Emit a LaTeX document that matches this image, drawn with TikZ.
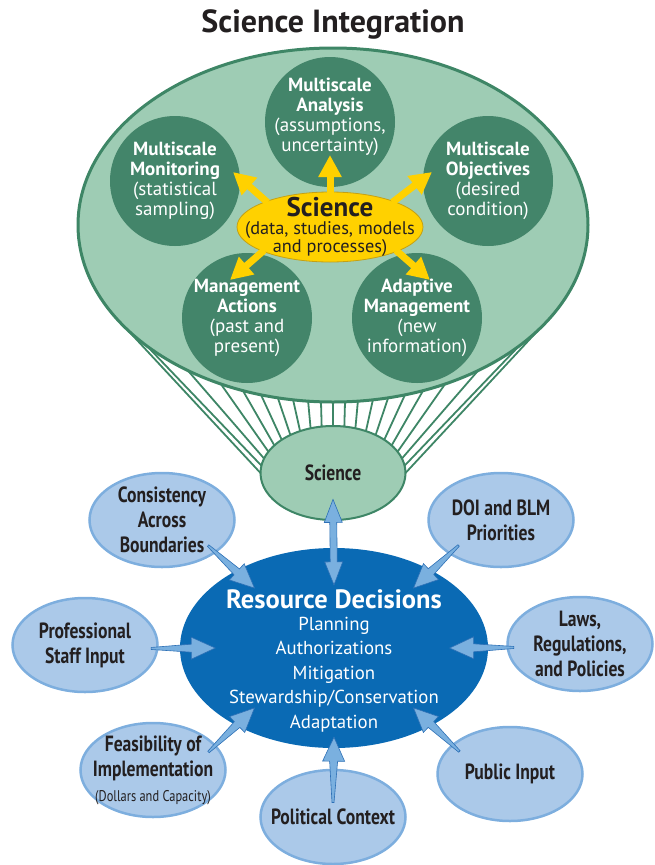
\documentclass[tikz,border=0pt]{standalone}
\usepackage{fontspec}
\setmainfont{PT Sans}
\newfontfamily\narrowsans[FakeStretch=0.8]{PT Sans}
\usetikzlibrary{calc,arrows.meta,shapes.geometric}

\definecolor{ink}{RGB}{35,31,32}
\definecolor{leaf}{RGB}{158,204,180}
\definecolor{leafedge}{RGB}{62,134,102}
\definecolor{pine}{RGB}{67,133,106}
\definecolor{sun}{RGB}{255,209,0}
\definecolor{sunedge}{RGB}{196,160,20}
\definecolor{ocean}{RGB}{10,106,180}
\definecolor{sky}{RGB}{171,201,233}
\definecolor{skyedge}{RGB}{125,174,222}
\definecolor{flow}{RGB}{122,176,223}
\definecolor{flowedge}{RGB}{45,112,182}

\tikzset{
  hub/.style={circle, fill=pine, minimum size=130pt, inner sep=-10pt,
    text=white, align=center, font=\fontsize{19}{20}\selectfont},
  topic/.style={ellipse, fill=sky, draw=skyedge, line width=2.5pt,
    minimum width=145pt, minimum height=94pt, inner xsep=-15pt, inner ysep=-10pt,
    align=center, text=ink, font=\narrowsans\bfseries\fontsize{22}{25}\selectfont},
  fanline/.style={leafedge, line width=1.8pt},
  sunarrow/.style={sun, line width=7pt, shorten <=-2pt,
    -{Triangle[width=22pt,length=22pt]}},
  flowarrow/.style={fill=flow, draw=flowedge, line width=0.6pt, line join=miter},
}

% tapered one-way arrow: #1 tail, #2 tip
\newcommand\taperarrow[2]{%
  \coordinate (ta-s) at (#1);
  \coordinate (ta-t) at (#2);
  \coordinate (ta-b) at ($(ta-t)!24pt!(ta-s)$);
  \filldraw[flowarrow] ($(ta-s)!1pt!90:(ta-t)$) -- ($(ta-b)!4pt!90:(ta-t)$)
    -- ($(ta-b)!11pt!90:(ta-t)$) -- (ta-t) -- ($(ta-b)!11pt!-90:(ta-t)$)
    -- ($(ta-b)!4pt!-90:(ta-t)$) -- ($(ta-s)!1pt!-90:(ta-t)$) -- cycle;
}
% two-headed arrow between two tips
\newcommand\twowayarrow[2]{%
  \coordinate (tw-a) at (#1);
  \coordinate (tw-b) at (#2);
  \coordinate (tw-ha) at ($(tw-a)!23pt!(tw-b)$);
  \coordinate (tw-hb) at ($(tw-b)!23pt!(tw-a)$);
  \filldraw[flowarrow] (tw-a) -- ($(tw-ha)!9pt!90:(tw-b)$) -- ($(tw-ha)!3.5pt!90:(tw-b)$)
    -- ($(tw-hb)!3.5pt!90:(tw-b)$) -- ($(tw-hb)!9pt!90:(tw-b)$) -- (tw-b)
    -- ($(tw-hb)!9pt!-90:(tw-b)$) -- ($(tw-hb)!3.5pt!-90:(tw-b)$)
    -- ($(tw-ha)!3.5pt!-90:(tw-b)$) -- ($(tw-ha)!9pt!-90:(tw-b)$) -- cycle;
}

\begin{document}
\begin{tikzpicture}[x=1pt,y=-1pt]
  \useasboundingbox (0,0) rectangle (654,865);

  % title
  \node[anchor=base, text=ink, font=\bfseries\fontsize{32}{34}\selectfont] (title) at (333,32) {Science Integration};

  % big oval and the small science oval below it
  \node[ellipse, fill=leaf, draw=leafedge, line width=3pt, minimum width=510pt,
    minimum height=354pt, inner sep=0pt] (integ) at (333,225) {};
  \node[topic, fill=leaf, draw=leafedge, line width=2pt,
    font=\narrowsans\bfseries\fontsize{22}{22}\selectfont] (sci) at (333,473) {Science};

  % funnel lines, mirrored left/right
  \foreach \s/\t in {0/0, 2.7/9, 5.6/18, 9/27, 12.5/36, 16.4/45, 20.7/54, 26.1/63, 34.7/72, 46.8/81, 53.9/90} {
    \draw[fanline] ($(integ)+(90+\s:255 and 177)$) -- ($(sci)+(-90-\t:72.5 and 47)$);
    \draw[fanline] ($(integ)+(90-\s:255 and 177)$) -- ($(sci)+(-90+\t:72.5 and 47)$);
  }

  % hubs
  \node[hub] (ana) at (330,122) {\textbf{Multiscale}\\\textbf{Analysis}\\(assumptions,\\uncertainty)\\[-6pt]~};
  \node[hub] (mon) at (175,181) {\textbf{Multiscale}\\\textbf{Monitoring}\\(statistical\\sampling)};
  \node[hub] (obj) at (488,181) {\textbf{Multiscale}\\\textbf{Objectives}\\(desired\\condition)};
  \node[hub] (act) at (247,318) {\textbf{Management}\\\textbf{Actions}\\(past and\\present)};
  \node[hub] (adp) at (417,318) {\textbf{Adaptive}\\\textbf{Management}\\(new\\information)};

  % science core
  \node[ellipse, fill=sun, draw=sunedge, line width=0.8pt, minimum width=186pt,
    minimum height=70pt, inner xsep=-25pt, inner ysep=-8pt, align=center, text=ink,
    font=\fontsize{18.3}{18}\selectfont] (core) at (330,227)
    {{\bfseries\fontsize{27}{24}\selectfont Science}\\(data, studies, models\\and processes)};

  \coordinate (anatip) at (330,155);
  \coordinate (montip) at (233,172);
  \coordinate (objtip) at (432,172);
  \coordinate (acttip) at (230,280);
  \coordinate (adptip) at (430,280);
  \draw[sunarrow] (core.north) -- (anatip);
  \draw[sunarrow] (core.158) -- (montip);
  \draw[sunarrow] (core.22) -- (objtip);
  \draw[sunarrow] (core.200) -- (acttip);
  \draw[sunarrow] (core.-20) -- (adptip);

  % resource decisions
  \node[ellipse, fill=ocean, minimum width=308pt, minimum height=200pt, inner sep=0pt] (rd) at (334,648) {};
  \node[text=white, align=center, font=\fontsize{18.8}{24.5}\selectfont] (rdtext) at (334,661)
    {{\bfseries\fontsize{26.5}{25}\selectfont Resource Decisions}\\[-3pt]Planning\\Authorizations\\Mitigation\\Stewardship/Conservation\\Adaptation};

  % inputs
  \node[topic] (cab) at (162,520) {Consistency\\Across\\Boundaries};
  \node[topic] (doi) at (501,520) {DOI and BLM\\Priorities};
  \node[topic] (prof) at (85,645) {Professional\\Staff Input};
  \node[topic] (laws) at (580,644) {Laws,\\Regulations,\\and Policies};
  \node[topic] (feas) at (153,770) {Feasibility of\\Implementation\\{\mdseries\fontsize{15.5}{15}\selectfont (Dollars and Capacity)}};
  \node[topic] (pol) at (333,817) {\raisebox{-7pt}{Political Context}};
  \node[topic] (pub) at (510,774) {Public Input};

  % arrows into the decisions
  \taperarrow{$(cab)!0.82!(cab.-29)$}{$(rd)!0.79!(rd.143)$}
  \taperarrow{$(doi)!0.78!(doi.211)$}{$(rd)!0.79!(rd.37)$}
  \taperarrow{$(prof)!0.9!(prof.-3)$}{$(rd)!0.77!(rd.180)$}
  \taperarrow{$(laws)!0.9!(laws.183)$}{$(rd)!0.75!(rd.0)$}
  \taperarrow{$(feas)!0.84!(feas.18)$}{$(rd)!0.79!(rd.217)$}
  \taperarrow{$(pub)!0.83!(pub.156)$}{$(rd)!0.79!(rd.-37)$}
  \taperarrow{$(pol)!0.3!(pol.90)$}{$(rd)!0.89!(rd.-90)$}
  \twowayarrow{$(sci)!0.55!(sci.south)$}{$(rd)!0.63!(rd.north)$}
\end{tikzpicture}
\end{document}
